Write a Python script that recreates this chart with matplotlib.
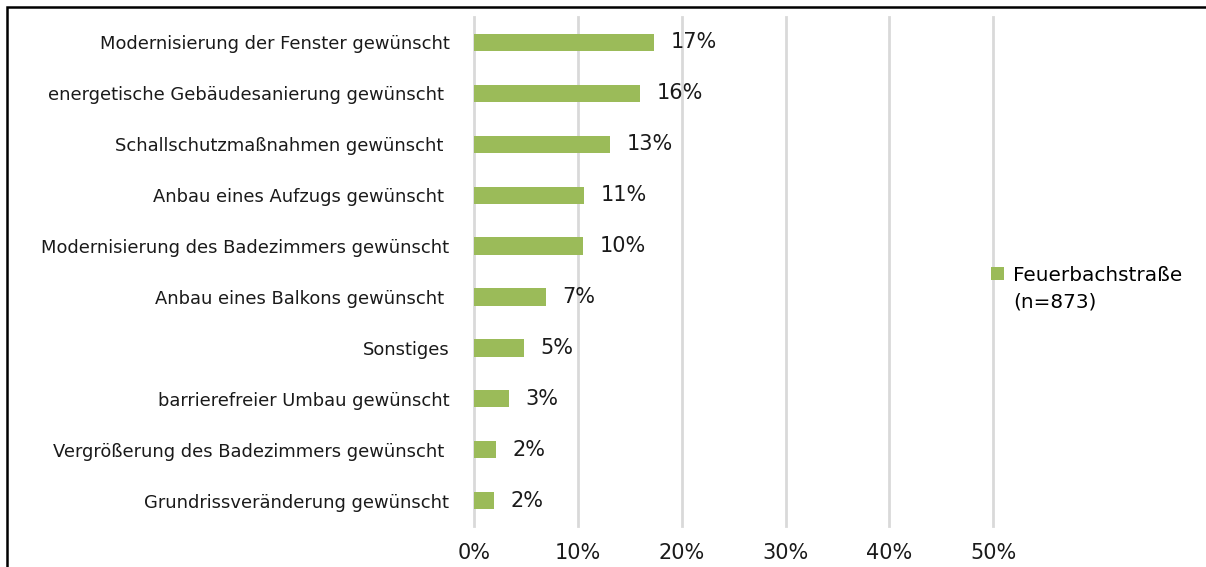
import numpy as np
import matplotlib
matplotlib.use("Agg")
from matplotlib import pyplot as plt
from matplotlib.patches import Rectangle, Patch

plt.rcParams['font.family'] = ['DejaVu Sans']

#%% data (top to bottom)
categories = [
    "Modernisierung der Fenster gewünscht",
    "energetische Gebäudesanierung gewünscht ",
    "Schallschutzmaßnahmen gewünscht ",
    "Anbau eines Aufzugs gewünscht ",
    "Modernisierung des Badezimmers gewünscht",
    "Anbau eines Balkons gewünscht ",
    "Sonstiges",
    "barrierefreier Umbau gewünscht",
    "Vergrößerung des Badezimmers gewünscht ",
    "Grundrissveränderung gewünscht",
]
values = [17.3, 16.0, 13.1, 10.55, 10.45, 6.9, 4.75, 3.3, 2.1, 1.9]
value_labels = ["17%", "16%", "13%", "11%", "10%", "7%", "5%", "3%", "2%", "2%"]
xticks = [0, 10, 20, 30, 40, 50]
xtick_labels = ["0%", "10%", "20%", "30%", "40%", "50%"]
series_name = "Feuerbachstraße"
series_n = "(n=873)"

#%%
fig = plt.figure(figsize=(12.06, 5.67), dpi=100)
ax = fig.add_axes([0.3934, 0.0723, 0.43, 0.8977])

y = np.arange(len(categories))
bars = ax.barh(y, values, height=0.34, color="#9BBB59", label=series_name, zorder=3)
ax.set_ylim(len(categories) - 0.5, -0.5)
ax.set_xlim(0, 50)

for yy, v, lab in zip(y, values, value_labels):
    ax.annotate(lab, (v, yy), xytext=(12, 0), textcoords="offset points",
                va="center", ha="left", fontsize=15, color="#1a1a1a")

ax.set_yticks(y)
ax.set_yticklabels(categories, fontsize=12.9, color="#1a1a1a")
ax.set_xticks(xticks)
ax.set_xticklabels(xtick_labels, fontsize=15, color="#1a1a1a")
ax.tick_params(axis="y", length=0, pad=18)
ax.tick_params(axis="x", length=0, pad=12)

ax.grid(axis="x", color="#d9d9d9", linewidth=2, zorder=0)
for gl in ax.get_xgridlines():
    gl.set_clip_on(False)
for s in ax.spines.values():
    s.set_visible(False)

blank = Patch(facecolor="none", edgecolor="none")
fig.legend(handles=[bars, blank], labels=[series_name, series_n], loc="upper left",
           bbox_to_anchor=(0.807, 0.563), frameon=False, fontsize=14.4,
           handlelength=0.65, handleheight=0.6, handletextpad=0.45,
           labelspacing=0.4)

# outer frame (left and top edge visible)
fig.add_artist(Rectangle((7 / 1206, -0.1), 1.2, 1.1 - 7 / 567,
                         transform=fig.transFigure, fill=False,
                         edgecolor="black", linewidth=1.8, clip_on=False))

fig.savefig("out.png", dpi=100)
